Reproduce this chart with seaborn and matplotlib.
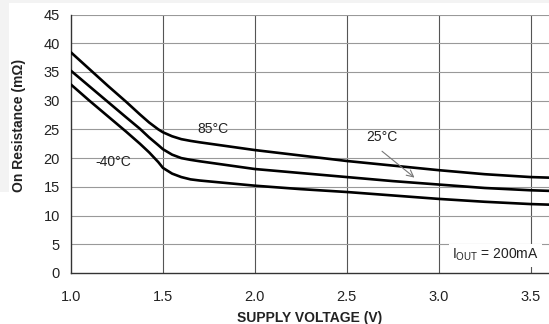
import matplotlib
matplotlib.use("Agg")
import matplotlib.pyplot as plt
import seaborn as sns
import pandas as pd
from matplotlib.patches import Rectangle

voltage = [1.0, 1.1, 1.2, 1.3, 1.375, 1.425, 1.475, 1.5, 1.55, 1.6, 1.65, 1.7,
           1.8, 1.9, 2.0, 2.25, 2.5, 2.75, 3.0, 3.25, 3.5, 3.6]
r_85 = [38.4, 35.5, 32.6, 29.8, 27.6, 26.2, 25.0, 24.5, 23.8, 23.3, 23.0, 22.75,
        22.3, 21.85, 21.4, 20.45, 19.5, 18.7, 17.9, 17.2, 16.7, 16.6]
r_25 = [35.2, 32.5, 29.8, 27.1, 25.1, 23.6, 22.25, 21.55, 20.6, 20.0, 19.7, 19.45,
        19.0, 18.55, 18.1, 17.4, 16.7, 16.0, 15.4, 14.8, 14.4, 14.3]
r_m40 = [32.8, 30.0, 27.3, 24.6, 22.5, 21.0, 19.3, 18.3, 17.3, 16.7, 16.3, 16.1,
         15.8, 15.5, 15.2, 14.6, 14.1, 13.5, 12.9, 12.4, 12.0, 11.9]
temps = ["85°C", "25°C", "-40°C"]
x_ticks = [1.0, 1.5, 2.0, 2.5, 3.0, 3.5]
x_tick_labels = ["1.0", "1.5", "2.0", "2.5", "3.0", "3.5"]
y_ticks = [0, 5, 10, 15, 20, 25, 30, 35, 40, 45]

rows = []
for t, vals in zip(temps, [r_85, r_25, r_m40]):
    for v, r in zip(voltage, vals):
        rows.append({"V": v, "R": r, "T": t})
df = pd.DataFrame(rows)

sns.set_theme(style="white")
plt.rcParams["font.family"] = ["Liberation Sans", "DejaVu Sans"]

fig = plt.figure(figsize=(5.49, 3.24), dpi=100)
# page background fragments
fig.patches.append(Rectangle((0, 1 - 3 / 324), 1, 3 / 324, transform=fig.transFigure,
                             facecolor="#f3f3f3", edgecolor="none", zorder=0))
fig.patches.append(Rectangle((0, 1 - 192 / 324), 9 / 549, 192 / 324, transform=fig.transFigure,
                             facecolor="#f3f3f3", edgecolor="none", zorder=0))

ax = fig.add_axes([71 / 549, 1 - 273 / 324, 1 - 71 / 549, (273 - 14.5) / 324])
ax.set_facecolor("white")

sns.lineplot(data=df, x="V", y="R", hue="T", palette=["black"] * 3, linewidth=1.9,
             legend=False, ax=ax, zorder=3)

ax.set_xlim(1.0, 3.6)
ax.set_ylim(0, 45)
ax.set_xticks(x_ticks)
ax.set_xticklabels(x_tick_labels)
ax.set_yticks(y_ticks)
for v in x_ticks[1:]:
    ax.axvline(v, color="#555555", linewidth=0.8, zorder=1)
for y in y_ticks[1:]:
    ax.axhline(y, color="#999999", linewidth=0.8, zorder=1)

for s in ["top", "right"]:
    ax.spines[s].set_visible(False)
for s in ["left", "bottom"]:
    ax.spines[s].set_color("#333333")
    ax.spines[s].set_linewidth(1.0)

ax.tick_params(axis="x", length=0, pad=12, labelsize=10.5, colors="#222222")
ax.tick_params(axis="y", length=0, pad=8, labelsize=10.5, colors="#222222")

ax.set_xlabel("SUPPLY VOLTAGE (V)", fontsize=10, fontweight="bold", color="#222222")
ax.set_ylabel("On Resistance (mΩ)", fontsize=10, fontweight="bold", color="#222222")
ax.xaxis.set_label_coords(0.5, -0.148)
ax.yaxis.set_label_coords(-0.095, 0.57)

ax.text(1.77, 25.1, "85°C", fontsize=10, ha="center", va="center", color="#222222", zorder=4)
ax.text(1.23, 19.4, "-40°C", fontsize=10, ha="center", va="center", color="#222222", zorder=4)
ax.text(2.69, 23.6, "25°C", fontsize=10, ha="center", va="center", color="#222222", zorder=4)
ax.annotate("", xy=(2.88, 16.3), xytext=(2.68, 21.5),
            arrowprops=dict(arrowstyle="->", color="#777777", lw=0.8), zorder=4)
ax.text(3.31, 3.1, "I$_{\\mathregular{OUT}}$ = 200mA", fontsize=10, ha="center", va="center",
        color="#222222", zorder=4,
        bbox=dict(facecolor="white", edgecolor="none", pad=2.5))

fig.savefig("out.png", dpi=100)
